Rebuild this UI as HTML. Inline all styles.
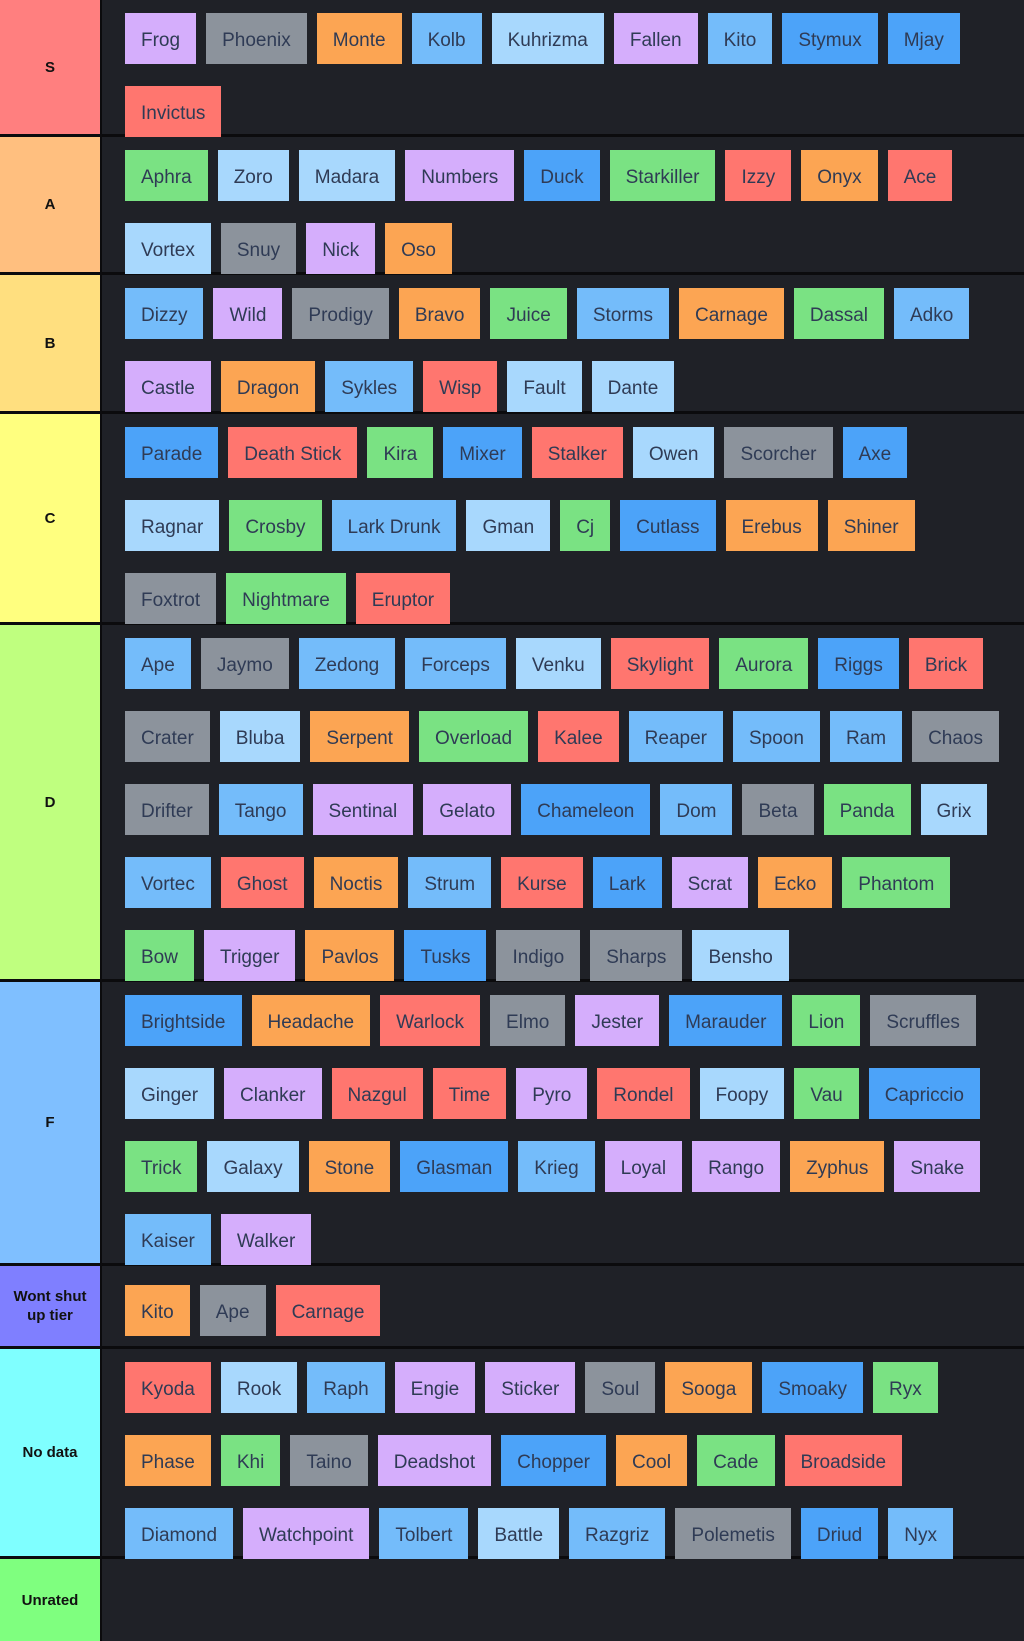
<!DOCTYPE html>
<html><head><meta charset="utf-8"><style>
*{box-sizing:border-box;margin:0;padding:0}
body{width:1024px;height:1641px;background:#1f2127;font-family:"Segoe UI","Liberation Sans",sans-serif;overflow:hidden}
.t{display:flex;border-bottom:3px solid #0b0b0d}
.l{width:102px;flex:none;display:flex;align-items:center;justify-content:center;text-align:center;font-weight:bold;font-size:15px;color:#111;border-right:2px solid #0b0b0d;line-height:19px}
.c{flex:1;padding:13px 0 0 23px}
.r{display:flex;gap:10px;height:51px;margin-bottom:22px;white-space:nowrap}
.r span{height:51px;line-height:47px;padding:4px 16px 0;font-size:19px;color:#2f3b55}
.p{background:#d5aefc}.g{background:#8c939c}.o{background:#fca553}.lb{background:#a8d8fd}.b{background:#74bcfa}.db{background:#4ca3f9}.gr{background:#7ae283}.r0{background:#ff766f}
</style></head><body>
<div class="t" style="height:137px"><div class="l" style="background:#ff7f7f">S</div><div class="c">
<div class="r"><span class="p">Frog</span><span class="g">Phoenix</span><span class="o">Monte</span><span class="b">Kolb</span><span class="lb">Kuhrizma</span><span class="p">Fallen</span><span class="b">Kito</span><span class="db">Stymux</span><span class="db">Mjay</span></div>
<div class="r"><span class="r0">Invictus</span></div></div></div>
<div class="t" style="height:138px"><div class="l" style="background:#ffbf7f">A</div><div class="c">
<div class="r"><span class="gr">Aphra</span><span class="lb">Zoro</span><span class="lb">Madara</span><span class="p">Numbers</span><span class="db">Duck</span><span class="gr">Starkiller</span><span class="r0">Izzy</span><span class="o">Onyx</span><span class="r0">Ace</span></div>
<div class="r"><span class="lb">Vortex</span><span class="g">Snuy</span><span class="p">Nick</span><span class="o">Oso</span></div></div></div>
<div class="t" style="height:139px"><div class="l" style="background:#ffdf7f">B</div><div class="c">
<div class="r"><span class="b">Dizzy</span><span class="p">Wild</span><span class="g">Prodigy</span><span class="o">Bravo</span><span class="gr">Juice</span><span class="b">Storms</span><span class="o">Carnage</span><span class="gr">Dassal</span><span class="b">Adko</span></div>
<div class="r"><span class="p">Castle</span><span class="o">Dragon</span><span class="b">Sykles</span><span class="r0">Wisp</span><span class="lb">Fault</span><span class="lb">Dante</span></div></div></div>
<div class="t" style="height:211px"><div class="l" style="background:#ffff7f">C</div><div class="c">
<div class="r"><span class="db">Parade</span><span class="r0">Death Stick</span><span class="gr">Kira</span><span class="db">Mixer</span><span class="r0">Stalker</span><span class="lb">Owen</span><span class="g">Scorcher</span><span class="db">Axe</span></div>
<div class="r"><span class="lb">Ragnar</span><span class="gr">Crosby</span><span class="b">Lark Drunk</span><span class="lb">Gman</span><span class="gr">Cj</span><span class="db">Cutlass</span><span class="o">Erebus</span><span class="o">Shiner</span></div>
<div class="r"><span class="g">Foxtrot</span><span class="gr">Nightmare</span><span class="r0">Eruptor</span></div></div></div>
<div class="t" style="height:357px"><div class="l" style="background:#bfff7f">D</div><div class="c">
<div class="r"><span class="b">Ape</span><span class="g">Jaymo</span><span class="b">Zedong</span><span class="b">Forceps</span><span class="lb">Venku</span><span class="r0">Skylight</span><span class="gr">Aurora</span><span class="db">Riggs</span><span class="r0">Brick</span></div>
<div class="r"><span class="g">Crater</span><span class="lb">Bluba</span><span class="o">Serpent</span><span class="gr">Overload</span><span class="r0">Kalee</span><span class="b">Reaper</span><span class="b">Spoon</span><span class="b">Ram</span><span class="g">Chaos</span></div>
<div class="r"><span class="g">Drifter</span><span class="b">Tango</span><span class="p">Sentinal</span><span class="p">Gelato</span><span class="db">Chameleon</span><span class="b">Dom</span><span class="g">Beta</span><span class="gr">Panda</span><span class="lb">Grix</span></div>
<div class="r"><span class="b">Vortec</span><span class="r0">Ghost</span><span class="o">Noctis</span><span class="b">Strum</span><span class="r0">Kurse</span><span class="db">Lark</span><span class="p">Scrat</span><span class="o">Ecko</span><span class="gr">Phantom</span></div>
<div class="r"><span class="gr">Bow</span><span class="p">Trigger</span><span class="o">Pavlos</span><span class="db">Tusks</span><span class="g">Indigo</span><span class="g">Sharps</span><span class="lb">Bensho</span></div></div></div>
<div class="t" style="height:284px"><div class="l" style="background:#7fbfff">F</div><div class="c">
<div class="r"><span class="db">Brightside</span><span class="o">Headache</span><span class="r0">Warlock</span><span class="g">Elmo</span><span class="p">Jester</span><span class="db">Marauder</span><span class="gr">Lion</span><span class="g">Scruffles</span></div>
<div class="r"><span class="lb">Ginger</span><span class="p">Clanker</span><span class="r0">Nazgul</span><span class="r0">Time</span><span class="p">Pyro</span><span class="r0">Rondel</span><span class="lb">Foopy</span><span class="gr">Vau</span><span class="db">Capriccio</span></div>
<div class="r"><span class="gr">Trick</span><span class="lb">Galaxy</span><span class="o">Stone</span><span class="db">Glasman</span><span class="b">Krieg</span><span class="p">Loyal</span><span class="p">Rango</span><span class="o">Zyphus</span><span class="p">Snake</span></div>
<div class="r"><span class="b">Kaiser</span><span class="p">Walker</span></div></div></div>
<div class="t" style="height:83px"><div class="l" style="background:#7f7fff">Wont shut<br>up tier</div><div class="c" style="padding-top:19px">
<div class="r"><span class="o">Kito</span><span class="g">Ape</span><span class="r0">Carnage</span></div></div></div>
<div class="t" style="height:210px"><div class="l" style="background:#7fffff">No data</div><div class="c">
<div class="r"><span class="r0">Kyoda</span><span class="lb">Rook</span><span class="b">Raph</span><span class="p">Engie</span><span class="p">Sticker</span><span class="g">Soul</span><span class="o">Sooga</span><span class="db">Smoaky</span><span class="gr">Ryx</span></div>
<div class="r"><span class="o">Phase</span><span class="gr">Khi</span><span class="g">Taino</span><span class="p">Deadshot</span><span class="db">Chopper</span><span class="o">Cool</span><span class="gr">Cade</span><span class="r0">Broadside</span></div>
<div class="r"><span class="b">Diamond</span><span class="p">Watchpoint</span><span class="b">Tolbert</span><span class="lb">Battle</span><span class="b">Razgriz</span><span class="g">Polemetis</span><span class="db">Driud</span><span class="b">Nyx</span></div></div></div>
<div class="t" style="height:82px;border-bottom:none"><div class="l" style="background:#7fff7f">Unrated</div><div class="c"></div></div>
</body></html>
